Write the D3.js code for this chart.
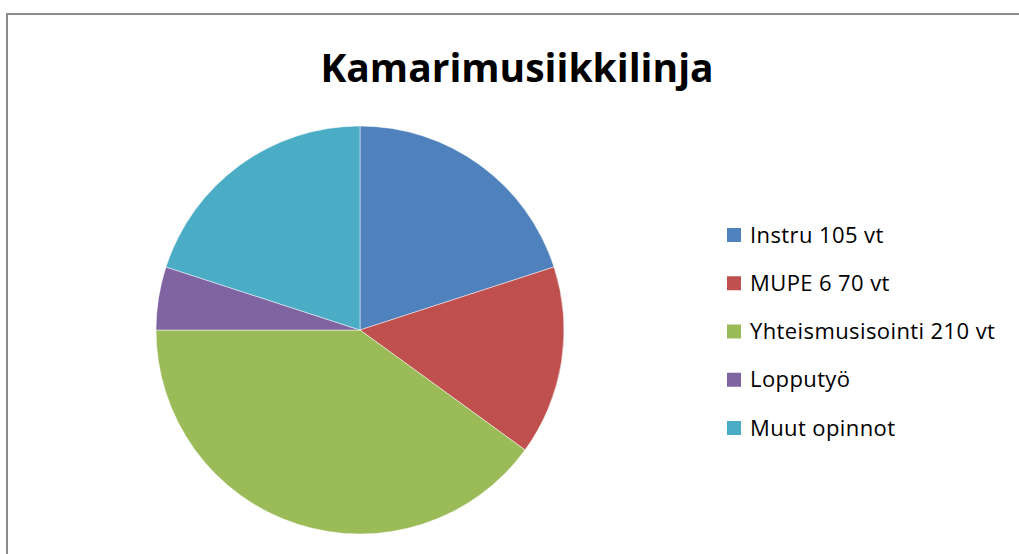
<!DOCTYPE html>
<html>
<head>
<meta charset="utf-8">
<script src="https://cdn.jsdelivr.net/npm/d3@7"></script>
<style>
  html, body { margin: 0; padding: 0; background: #fff; }
  svg { display: block; }
</style>
</head>
<body>
<svg id="chart" width="1019" height="554"></svg>
<script>
const title = "Kamarimusiikkilinja";
const categories = ["Instru 105 vt", "MUPE 6 70 vt", "Yhteismusisointi 210 vt", "Lopputyö", "Muut opinnot"];
const values = [105, 78.75, 210, 26.25, 105];
const colors = ["#4F81BD", "#C0504D", "#9BBB59", "#8064A2", "#4BACC6"];

const svg = d3.select("#chart");
const W = 1019, H = 554;

// chart frame (top and left edges visible)
svg.append("line").attr("x1", 7).attr("x2", W).attr("y1", 14).attr("y2", 14)
  .attr("stroke", "#8c8c8c").attr("stroke-width", 2);
svg.append("line").attr("x1", 7).attr("x2", 7).attr("y1", 13).attr("y2", H)
  .attr("stroke", "#8c8c8c").attr("stroke-width", 2);

svg.append("text")
  .attr("x", 517).attr("y", 82)
  .attr("text-anchor", "middle")
  .attr("font-family", "'Open Sans', 'Liberation Sans', sans-serif")
  .attr("font-weight", "bold")
  .attr("font-size", 39)
  .attr("fill", "#000")
  .text(title);

const cx = 360, cy = 330, r = 204;
const pie = d3.pie().sort(null).value(d => d)(values);
const arc = d3.arc().innerRadius(0).outerRadius(r);
const color = d3.scaleOrdinal().domain(categories).range(colors);

svg.append("g").attr("transform", `translate(${cx},${cy})`)
  .selectAll("path").data(pie).join("path")
  .attr("d", arc)
  .attr("fill", (d, i) => color(categories[i]))
  .attr("stroke", "#ffffff")
  .attr("stroke-width", 0.8)
  .attr("stroke-opacity", 0.6);

const ly = d3.scalePoint().domain(categories).range([235, 428]);
const lg = svg.append("g").selectAll("g").data(categories).join("g")
  .attr("transform", d => `translate(727,${ly(d)})`);
lg.append("rect").attr("x", 0).attr("y", -7).attr("width", 14).attr("height", 14)
  .attr("fill", d => color(d));
lg.append("text").attr("x", 23).attr("y", 7.5)
  .attr("font-family", "'Open Sans', 'Liberation Sans', sans-serif")
  .attr("font-size", 22)
  .attr("letter-spacing", 0.4)
  .attr("fill", "#000")
  .text(d => d);
</script>
</body>
</html>
